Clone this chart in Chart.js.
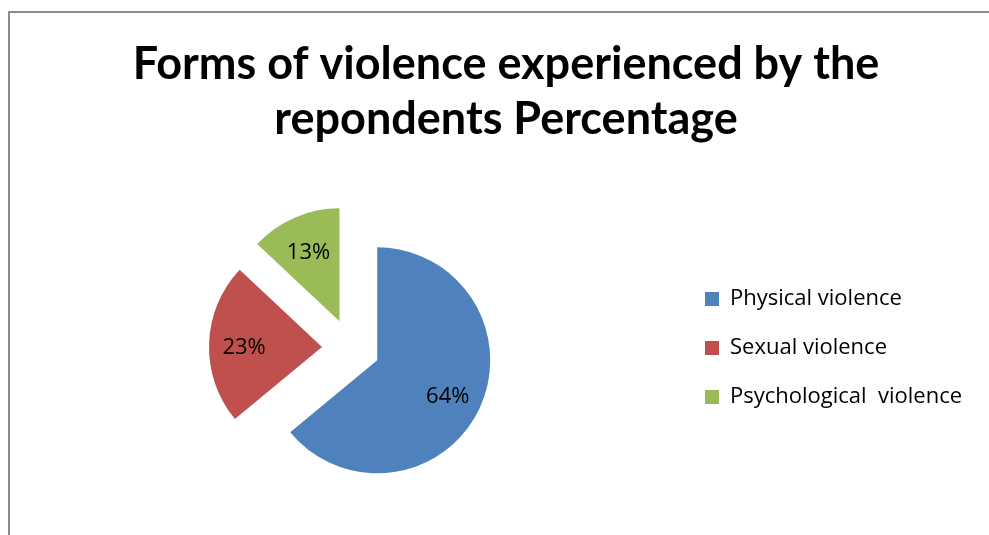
<!DOCTYPE html>
<html>
<head>
<meta charset="utf-8">
<title>Forms of violence experienced by the repondents</title>
<script src="https://cdn.jsdelivr.net/npm/chart.js@4.4.1/dist/chart.umd.min.js"></script>
<style>
  html, body { margin: 0; padding: 0; background: #fff; overflow: hidden; }
  #wrap { position: relative; width: 989px; height: 535px; overflow: hidden; }
  #chart { position: absolute; left: 0; top: 0; }
  /* the grey chart frame, only top and left edges are visible */
  #frame {
    position: absolute; left: 8px; top: 11px; width: 1200px; height: 800px;
    border-top: 2px solid #8a8a8a; border-left: 2px solid #8a8a8a;
    pointer-events: none;
  }
</style>
</head>
<body>
<div id="wrap">
  <canvas id="chart" width="1012" height="535"></canvas>
  <div id="frame"></div>
</div>
<script>
// Chart data
const titleLines = ["Forms of violence experienced by the", "repondents Percentage"]
const categories = ["Physical violence", "Sexual violence", "Psychological  violence"]
const percentages = [64, 23, 13]
const sliceColors = ["#4F81BD", "#C0504D", "#9BBB59"]

// Exploded pie look
const pieRadius = 113
const explode = 29
const legendWidth = 310

// Push every slice out from the centre along its middle angle
const explodePlugin = {
  id: "explode",
  beforeDatasetsDraw(chart) {
    const area = chart.chartArea
    const cx = (area.left + area.right) / 2
    const cy = (area.top + area.bottom) / 2
    chart.getDatasetMeta(0).data.forEach(arc => {
      const mid = (arc.startAngle + arc.endAngle) / 2
      arc.x = cx + Math.cos(mid) * explode
      arc.y = cy + Math.sin(mid) * explode
    })
  }
}

// Percentage labels inside the slices
const sliceLabels = {
  id: "sliceLabels",
  afterDatasetsDraw(chart) {
    const ctx = chart.ctx
    const ds = chart.data.datasets[0]
    ctx.save()
    ctx.font = "22px 'Open Sans'"
    ctx.fillStyle = "#000"
    ctx.textAlign = "center"
    ctx.textBaseline = "middle"
    chart.getDatasetMeta(0).data.forEach((arc, i) => {
      const mid = (arc.startAngle + arc.endAngle) / 2
      const r = arc.outerRadius * 0.69
      ctx.fillText(ds.data[i] + "%", arc.x + Math.cos(mid) * r, arc.y + Math.sin(mid) * r + 3)
    })
    ctx.restore()
  }
}

// Fixed legend width so the pie sits where it should
const legendSize = {
  id: "legendSize",
  beforeInit(chart) {
    const fit = chart.legend.fit
    chart.legend.fit = function () {
      fit.call(this)
      this.width = legendWidth
    }
  }
}

new Chart(document.getElementById("chart"), {
  type: "pie",
  data: {
    labels: categories,
    datasets: [{
      data: percentages,
      backgroundColor: sliceColors,
      borderWidth: 0
    }]
  },
  options: {
    responsive: false,
    animation: false,
    events: [],
    radius: pieRadius,
    layout: {
      padding: { left: 24, right: 24, top: 24, bottom: 0 }
    },
    plugins: {
      title: {
        display: true,
        text: titleLines,
        color: "#000",
        font: { family: "Lato", size: 45, weight: "bold", lineHeight: 1.244 },
        padding: { top: 12, bottom: 13 }
      },
      legend: {
        position: "right",
        fullSize: false,
        labels: {
          color: "#000",
          font: { family: "'Open Sans'", size: 22 },
          boxWidth: 14,
          boxHeight: 14,
          padding: 27
        }
      },
      tooltip: { enabled: false }
    }
  },
  plugins: [legendSize, explodePlugin, sliceLabels]
})
</script>
</body>
</html>
